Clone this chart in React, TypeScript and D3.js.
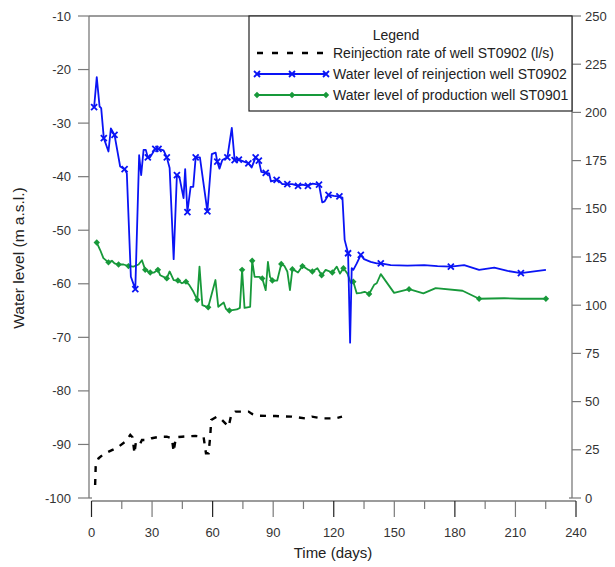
import React from "react";
import * as d3 from "d3";

// [day, water level (m a.s.l.), marker flag]
const reinjectionWellLevel: [number, number, number][] = [
  [1.3, -27.0, 1], [2.6, -21.4, 0], [4.0, -26.9, 0], [4.8, -27.2, 0], [6.1, -32.8, 1],
  [8.4, -35.3, 0], [9.6, -31.0, 0], [11.4, -32.2, 1], [14.2, -38.1, 0], [16.4, -38.6, 1],
  [17.5, -39.4, 0], [19.5, -58.7, 0], [21.7, -61.0, 1], [23.6, -36.0, 0], [24.6, -39.7, 0],
  [25.8, -35.0, 0], [26.9, -35.0, 0], [27.9, -36.4, 1], [29.0, -36.4, 0], [31.6, -34.8, 1],
  [33.2, -34.8, 1], [35.7, -35.1, 0], [37.3, -36.4, 1], [38.7, -38.4, 0], [40.7, -55.4, 0],
  [42.3, -39.7, 1], [43.5, -40.0, 0], [45.6, -44.0, 0], [46.4, -38.6, 0], [47.5, -46.6, 1],
  [49.1, -41.9, 0], [50.4, -41.9, 0], [51.6, -36.4, 1], [53.7, -36.4, 0], [57.4, -46.5, 1],
  [59.6, -35.8, 0], [61.5, -35.5, 0], [62.3, -37.2, 1], [63.4, -38.5, 0], [64.8, -36.9, 0],
  [67.3, -36.4, 1], [69.5, -30.9, 0], [70.9, -36.9, 1], [73.0, -36.8, 1], [75.5, -37.2, 0],
  [77.7, -37.5, 1], [79.3, -38.3, 0], [81.3, -36.4, 1], [82.9, -37.0, 1], [84.1, -39.1, 0],
  [86.3, -39.3, 1], [88.0, -39.4, 0], [88.9, -40.9, 0], [91.7, -40.6, 1], [93.0, -40.8, 0],
  [94.5, -41.4, 0], [97.0, -41.4, 1], [99.5, -41.4, 0], [102.3, -41.7, 1], [104.5, -41.5, 0],
  [107.2, -41.7, 1], [109.5, -41.3, 0], [112.7, -41.5, 1], [114.3, -44.8, 0], [115.5, -44.6, 0],
  [117.4, -43.4, 1], [120.0, -43.6, 0], [122.8, -43.7, 1], [124.3, -43.9, 0], [125.4, -51.8, 0],
  [127.1, -54.3, 1], [128.1, -71.0, 0], [128.9, -57.1, 0], [129.7, -57.4, 0], [131.4, -56.2, 0],
  [133.4, -54.6, 1], [135.0, -55.4, 0], [138.3, -55.9, 0], [141.3, -56.2, 0], [143.3, -56.2, 1],
  [148.2, -56.5, 0], [156.5, -56.6, 0], [164.8, -56.5, 0], [171.4, -56.7, 0], [178.0, -56.8, 1],
  [184.6, -56.5, 0], [192.0, -57.4, 0], [199.5, -57.0, 0], [206.1, -57.6, 0], [212.7, -58.0, 1],
  [219.3, -57.7, 0], [225.1, -57.4, 0],
];

const productionWellLevel: [number, number, number][] = [
  [2.6, -52.3, 1], [4.3, -53.7, 0], [5.9, -55.2, 0], [8.4, -56.0, 1], [10.1, -55.7, 0],
  [11.4, -56.2, 0], [13.4, -56.4, 1], [15.9, -56.4, 0], [18.3, -56.7, 1], [20.8, -56.8, 0],
  [23.3, -56.4, 0], [25.0, -55.6, 0], [26.6, -57.4, 1], [29.1, -57.9, 1], [31.0, -57.9, 0],
  [32.9, -57.4, 1], [34.0, -58.4, 0], [37.3, -59.0, 1], [38.7, -57.7, 0], [40.7, -59.3, 0],
  [42.8, -59.4, 1], [44.8, -59.9, 0], [46.8, -59.6, 1], [48.4, -60.2, 0], [50.5, -61.5, 0],
  [52.4, -63.0, 1], [53.5, -56.8, 0], [54.9, -64.0, 0], [57.8, -64.4, 1], [61.4, -59.3, 0],
  [62.8, -64.3, 0], [65.5, -63.5, 0], [66.6, -64.7, 0], [68.3, -65.0, 1], [72.0, -64.8, 0],
  [73.5, -64.5, 0], [74.6, -57.4, 1], [75.8, -64.5, 0], [78.6, -64.3, 0], [79.6, -55.7, 1],
  [80.8, -58.7, 0], [83.0, -58.7, 0], [84.6, -59.0, 1], [86.3, -61.2, 0], [87.4, -55.9, 0],
  [88.4, -58.7, 0], [89.6, -59.4, 1], [92.0, -59.4, 0], [94.0, -56.3, 1], [95.6, -56.7, 0],
  [97.0, -57.7, 0], [98.3, -61.2, 0], [99.5, -57.3, 1], [101.1, -57.6, 0], [102.3, -57.9, 0],
  [104.5, -56.7, 1], [107.0, -57.3, 0], [109.4, -57.7, 1], [111.9, -57.1, 0], [114.0, -58.4, 1],
  [116.0, -57.4, 0], [119.3, -57.9, 1], [121.5, -56.8, 0], [123.1, -58.1, 0], [124.8, -57.1, 1],
  [126.8, -58.1, 0], [128.4, -59.8, 0], [129.7, -59.6, 1], [131.4, -61.8, 0], [133.4, -61.7, 0],
  [135.3, -61.5, 0], [137.5, -61.9, 1], [140.0, -60.2, 0], [141.3, -59.9, 0], [143.3, -58.2, 0],
  [149.9, -61.7, 0], [157.3, -61.0, 1], [164.4, -61.8, 0], [170.5, -60.8, 0], [183.8, -61.3, 0],
  [192.0, -62.8, 1], [204.4, -62.7, 0], [212.7, -62.8, 0], [225.1, -62.8, 1],
];

// [day, reinjection rate (l/s)]
const reinjectionRate: [number, number][] = [
  [1.8, 6.7], [2.1, 17.1], [3.5, 20.6], [5.9, 22.7], [10.9, 25.2], [13.4, 26.6], [16.7, 29.2],
  [19.2, 32.7], [20.3, 31.5], [21.3, 23.2], [22.0, 29.2], [23.3, 29.2], [24.1, 28.2], [25.0, 30.1],
  [28.3, 30.1], [29.9, 31.0], [34.0, 31.8], [37.3, 31.8], [39.8, 31.0], [40.7, 24.0], [41.8, 31.5],
  [44.8, 31.8], [51.4, 32.2], [55.5, 31.8], [56.7, 23.2], [58.0, 23.2], [58.8, 31.8], [59.3, 40.5],
  [62.1, 42.2], [64.6, 40.5], [67.9, 37.0], [69.2, 43.0], [71.2, 44.8], [77.8, 44.8], [79.5, 43.6],
  [82.8, 42.7], [91.1, 42.5], [99.3, 42.2], [105.9, 41.3], [109.2, 42.2], [114.2, 41.3],
  [120.8, 41.3], [124.1, 42.2],
];

const xTicks = [0, 30, 60, 90, 120, 150, 180, 210, 240];
const xMinorTicks = [15, 45, 75, 105, 135, 165, 195, 225];
const leftTicks = [-10, -20, -30, -40, -50, -60, -70, -80, -90, -100];
const rightTicks = [0, 25, 50, 75, 100, 125, 150, 175, 200, 225, 250];

const legendTitle = "Legend";
const legendLabels = [
  "Reinjection rate of well ST0902 (l/s)",
  "Water level of reinjection well ST0902",
  "Water level of production well ST0901",
];

const BLUE = "#0a14f5";
const GREEN = "#17993a";
const AXIS = "#7a7a7a";
const TEXT = "#333";
const FONT = "'Liberation Sans', Arial, sans-serif";

export default function App() {
  const x = d3.scaleLinear().domain([0, 240]).range([91.5, 576]);
  const yL = d3.scaleLinear().domain([-100, -10]).range([498, 16]);
  const yR = d3.scaleLinear().domain([0, 250]).range([498, 16]);

  const left = 89;
  const right = 572;
  const top = 16;
  const bottom = 498;
  const xAxisY = 501;

  const lineL = d3
    .line<[number, number, number]>()
    .x((d) => x(d[0]))
    .y((d) => yL(d[1]));
  const lineR = d3
    .line<[number, number]>()
    .x((d) => x(d[0]))
    .y((d) => yR(d[1]));

  const cross = (cx: number, cy: number, key: string, color: string) => (
    <path
      key={key}
      d={`M${cx - 3},${cy - 3}L${cx + 3},${cy + 3}M${cx - 3},${cy + 3}L${cx + 3},${cy - 3}`}
      stroke={color}
      strokeWidth={1.8}
    />
  );
  const dot = (cx: number, cy: number, key: string, color: string) => (
    <path
      key={key}
      d={`M${cx},${cy - 3.2}L${cx + 3.2},${cy}L${cx},${cy + 3.2}L${cx - 3.2},${cy}Z`}
      fill={color}
    />
  );

  const legX = 249;
  const legRows = [53, 74, 95];

  return (
    <svg width={615} height={567} style={{ position: "absolute", left: 0, top: 0 }} fontFamily={FONT}>
      <rect width={615} height={567} fill="#fff" />

      {/* frame: left, top, right axes */}
      <line x1={left} x2={left} y1={top} y2={bottom} stroke={AXIS} strokeWidth={1.3} />
      <line x1={left} x2={right} y1={top} y2={top} stroke={AXIS} strokeWidth={1.3} />
      <line x1={right} x2={right} y1={top} y2={bottom} stroke={AXIS} strokeWidth={1.3} />
      <line x1={left} x2={left + 3} y1={bottom} y2={bottom} stroke={AXIS} strokeWidth={1.3} />
      <line x1={right - 3} x2={right} y1={bottom} y2={bottom} stroke={AXIS} strokeWidth={1.3} />

      {/* left ticks */}
      {leftTicks.map((t) => (
        <g key={"l" + t}>
          <line x1={left - 11} x2={left} y1={yL(t)} y2={yL(t)} stroke={AXIS} strokeWidth={1.2} />
          <text x={left - 18} y={yL(t)} dy="0.35em" textAnchor="end" fontSize={13} fill={TEXT}>
            {t}
          </text>
        </g>
      ))}
      {/* right ticks */}
      {rightTicks.map((t) => (
        <g key={"r" + t}>
          <line x1={right} x2={right + 9} y1={yR(t)} y2={yR(t)} stroke={AXIS} strokeWidth={1.2} />
          <text x={right + 13} y={yR(t)} dy="0.35em" textAnchor="start" fontSize={13} fill={TEXT}>
            {t}
          </text>
        </g>
      ))}

      {/* x axis */}
      <line x1={x(0)} x2={x(240)} y1={xAxisY} y2={xAxisY} stroke={AXIS} strokeWidth={1.3} />
      {xTicks.map((t) => (
        <g key={"x" + t}>
          <line x1={x(t)} x2={x(t)} y1={xAxisY} y2={xAxisY + 16} stroke={t % 60 === 0 ? "#222" : AXIS} strokeWidth={1.2} />
          <text x={x(t)} y={532} dy="0.35em" textAnchor="middle" fontSize={13} fill={TEXT}>
            {t}
          </text>
        </g>
      ))}
      {xMinorTicks.map((t) => (
        <line key={"xm" + t} x1={x(t)} x2={x(t)} y1={xAxisY} y2={xAxisY + 8} stroke={AXIS} strokeWidth={1.2} />
      ))}

      {/* axis titles */}
      <text x={333} y={553} dy="0.35em" textAnchor="middle" fontSize={15} fill="#222">
        Time (days)
      </text>
      <text
        transform={`translate(19,258) rotate(-90)`}
        textAnchor="middle"
        dy="0.35em"
        fontSize={15.5}
        fill="#222"
      >
        Water level (m a.s.l.)
      </text>

      {/* reinjection rate (dashed, right axis) */}
      <path
        d={lineR(reinjectionRate) || ""}
        fill="none"
        stroke="#000"
        strokeWidth={2.4}
        strokeDasharray="6,7"
      />

      {/* production well */}
      <path d={lineL(productionWellLevel) || ""} fill="none" stroke={GREEN} strokeWidth={1.8} strokeLinejoin="round" />
      {productionWellLevel
        .filter((d) => d[2] === 1)
        .map((d, i) => dot(x(d[0]), yL(d[1]), "g" + i, GREEN))}

      {/* reinjection well */}
      <path d={lineL(reinjectionWellLevel) || ""} fill="none" stroke={BLUE} strokeWidth={1.8} strokeLinejoin="round" />
      {reinjectionWellLevel
        .filter((d) => d[2] === 1)
        .map((d, i) => cross(x(d[0]), yL(d[1]), "b" + i, BLUE))}

      {/* legend */}
      <rect x={legX} y={top} width={right - legX} height={111 - top} fill="#fff" stroke="#222" strokeWidth={1.2} />
      <text x={396} y={35} dy="0.35em" textAnchor="middle" fontSize={14} fill="#222">
        {legendTitle}
      </text>
      <line x1={257} x2={326} y1={legRows[0]} y2={legRows[0]} stroke="#000" strokeWidth={2.4} strokeDasharray="6,9" />
      <line x1={257} x2={326} y1={legRows[1]} y2={legRows[1]} stroke={BLUE} strokeWidth={1.8} />
      {[257, 292, 326].map((cx, i) => cross(cx, legRows[1], "lb" + i, BLUE))}
      <line x1={257} x2={326} y1={legRows[2]} y2={legRows[2]} stroke={GREEN} strokeWidth={1.8} />
      {[257, 292, 326].map((cx, i) => dot(cx, legRows[2], "lg" + i, GREEN))}
      {legendLabels.map((l, i) => (
        <text key={l} x={333} y={legRows[i]} dy="0.35em" fontSize={14} fill="#222">
          {l}
        </text>
      ))}
    </svg>
  );
}
